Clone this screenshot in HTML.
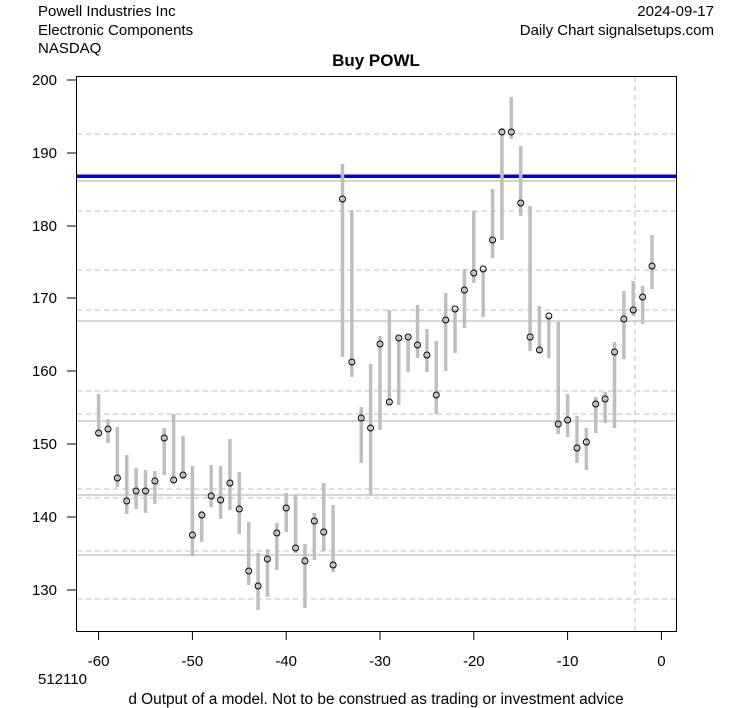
<!DOCTYPE html>
<html><head><meta charset="utf-8"><style>
body{margin:0;background:#fff}
svg{display:block;font-family:"Liberation Sans",Arial,sans-serif}
</style></head><body>
<svg id="s" width="753" height="708" viewBox="0 0 753 708" xmlns="http://www.w3.org/2000/svg">
<rect width="753" height="708" fill="#fff"/>
<g stroke="#bebebe" stroke-width="1" stroke-dasharray="5,4" fill="none">
<line x1="77" x2="676" y1="134" y2="134"/><line x1="77" x2="676" y1="211" y2="211"/>
<line x1="77" x2="676" y1="270" y2="270"/><line x1="77" x2="676" y1="310" y2="310"/>
<line x1="77" x2="676" y1="391" y2="391"/><line x1="77" x2="676" y1="414" y2="414"/>
<line x1="77" x2="676" y1="489" y2="489"/><line x1="77" x2="676" y1="498" y2="498"/>
<line x1="77" x2="676" y1="551" y2="551"/><line x1="77" x2="676" y1="599" y2="599"/>
<line x1="635" x2="635" y1="77" y2="631"/>
</g>
<g stroke="#bebebe" stroke-width="1.3">
<line x1="77" x2="676" y1="181" y2="181"/><line x1="77" x2="676" y1="321" y2="321"/>
<line x1="77" x2="676" y1="421" y2="421"/><line x1="77" x2="676" y1="495" y2="495"/>
<line x1="77" x2="676" y1="555" y2="555"/>
</g>
<line x1="77" x2="676" y1="176.3" y2="176.3" stroke="#0000ee" stroke-width="3.5"/>
<g id="bars" stroke="#bebebe" stroke-width="3.5"></g>
<g id="pts" stroke="#000" stroke-width="1" fill="none"></g>
<rect x="76.5" y="76.5" width="600" height="555" fill="none" stroke="#000" stroke-width="1"/>
<g stroke="#000" stroke-width="1">
<line x1="98.6" x2="98.6" y1="631" y2="640"/><line x1="192.4" x2="192.4" y1="631" y2="640"/>
<line x1="286.2" x2="286.2" y1="631" y2="640"/><line x1="380" x2="380" y1="631" y2="640"/>
<line x1="473.8" x2="473.8" y1="631" y2="640"/><line x1="567.6" x2="567.6" y1="631" y2="640"/>
<line x1="661.4" x2="661.4" y1="631" y2="640"/>
<line x1="67" x2="76" y1="80" y2="80"/><line x1="67" x2="76" y1="153" y2="153"/>
<line x1="67" x2="76" y1="226" y2="226"/><line x1="67" x2="76" y1="298" y2="298"/>
<line x1="67" x2="76" y1="371" y2="371"/><line x1="67" x2="76" y1="444" y2="444"/>
<line x1="67" x2="76" y1="517" y2="517"/><line x1="67" x2="76" y1="590" y2="590"/>
</g>
<g font-size="15" fill="#000" text-anchor="end">
<text x="57" y="85">200</text><text x="57" y="158">190</text><text x="57" y="231">180</text>
<text x="57" y="303">170</text><text x="57" y="376">160</text><text x="57" y="449">150</text>
<text x="57" y="522">140</text><text x="57" y="595">130</text>
</g>
<g font-size="15" fill="#000" text-anchor="middle">
<text x="98.6" y="666">-60</text><text x="192.4" y="666">-50</text><text x="286.2" y="666">-40</text>
<text x="380" y="666">-30</text><text x="473.8" y="666">-20</text><text x="567.6" y="666">-10</text>
<text x="661.4" y="666">0</text>
<text x="376" y="66" font-weight="bold" font-size="17">Buy POWL</text>
<text x="376" y="704" font-size="15.4">d Output of a model. Not to be construed as trading or investment advice</text>
</g>
<g font-size="15" fill="#000">
<text x="38" y="16">Powell Industries Inc</text>
<text x="38" y="35">Electronic Components</text>
<text x="38" y="53">NASDAQ</text>
<text x="38" y="684">512110</text>
<text x="714" y="16" text-anchor="end">2024-09-17</text>
<text x="714" y="35" text-anchor="end">Daily Chart signalsetups.com</text>
</g>
</svg>
<script>
var d=[[394,437,433],[419,443,429],[427,487,478],[455,514,501],[468,509,491],[470,513,491],[471,504,481],[428,475,438],[414,483,480],[436,479,475],
[466,556,535],[511,542,515],[465,507,496],[466,519,500],[439,510,483],[472,534,509],[522,585,571],[553,610,586],[549,597,559],[523,570,533],
[493,532,508],[490,519,548],[544,608,561],[513,560,521],[483,551,532],[505,572,565],[164,357,199],[210,377,362],[407,463,418],[364,495,428],
[336,430,344],[310,405,402],[336,405,338],[335,372,337],[305,358,345],[329,372,355],[341,414,395],[293,371,320],[309,353,309],[269,328,290],
[211,283,273],[269,317,269],[189,258,240],[128,240,132],[97,139,132],[146,216,203],[206,351,337],[306,353,350],[316,358,316],[322,434,424],
[394,437,420],[416,463,448],[428,470,442],[397,433,404],[392,423,399],[342,428,352],[291,359,319],[281,316,310],[286,324,297],[235,289,266]];
d[21]=[495,553,548];
var b='',p='';
for(var i=0;i<60;i++){var x=98.6+i*9.38,r=d[i];
b+='<line x1="'+x+'" x2="'+x+'" y1="'+r[0]+'" y2="'+r[1]+'"/>';
p+='<circle cx="'+x+'" cy="'+r[2]+'" r="3"/>';}
document.getElementById('bars').innerHTML=b;
document.getElementById('pts').innerHTML=p;
</script>
</body></html>
